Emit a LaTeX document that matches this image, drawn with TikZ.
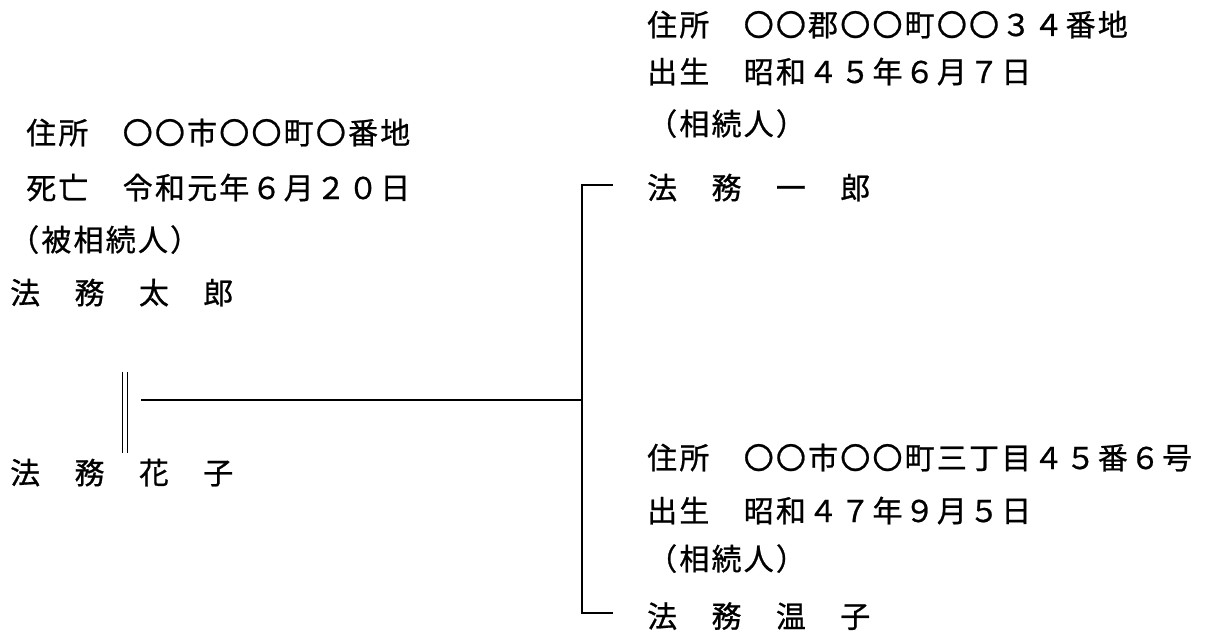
\documentclass[tikz,border=0pt]{standalone}
\usepackage{fontspec}
\newfontfamily\jp[LetterSpace=7.3,FakeBold=0.8]{Noto Sans CJK JP}
\tikzset{
  txt/.style={anchor=base west, inner sep=0pt, font=\jp\fontsize{30}{36}\selectfont},
  conn/.style={draw=black, line width=1.7pt},
}
\begin{document}
\begin{tikzpicture}[x=1pt,y=-1pt]
\useasboundingbox (0,0) rectangle (1213,634);
% left block
\node[txt] (la) at (26,144) {住所　〇〇市〇〇町〇番地};
\node[txt] (lb) at (26,199) {死亡　令和元年６月２０日};
\node[txt] (lc) at (9,251) {（被相続人）};
\node[txt] (taro) at (10,304) {法　務　太　郎};
\node[txt] (hanako) at (10,484) {法　務　花　子};
% right top
\node[txt] (ra) at (647,36) {住所　〇〇郡〇〇町〇〇３４番地};
\node[txt] (rb) at (647,83) {出生　昭和４５年６月７日};
\node[txt] (rc) at (647,135) {（相続人）};
\node[txt] (ichiro) at (647,199) {法　務　一　郎};
% right bottom
\node[txt] (rd) at (647,469) {住所　〇〇市〇〇町三丁目４５番６号};
\node[txt] (re) at (647,522) {出生　昭和４７年９月５日};
\node[txt] (rf) at (647,570) {（相続人）};
\node[txt] (onko) at (647,627.5) {法　務　温　子};
% marriage double line
\coordinate (d1t) at (122.5,372);
\coordinate (d1b) at (122.5,453);
\coordinate (d2t) at (127.5,372);
\coordinate (d2b) at (127.5,453);
\draw[conn] (d1t) -- (d1b);
\draw[conn] (d2t) -- (d2b);
% link to children
\coordinate (h0) at (141,400);
\coordinate (jt) at (582,185);
\coordinate (jb) at (582,613);
\coordinate (s1) at (613,185);
\coordinate (s2) at (613,613);
\draw[conn] (h0) -- (h0 -| jt);
\draw[conn] (s1) -- (jt) -- (jb) -- (s2);
\end{tikzpicture}
\end{document}
